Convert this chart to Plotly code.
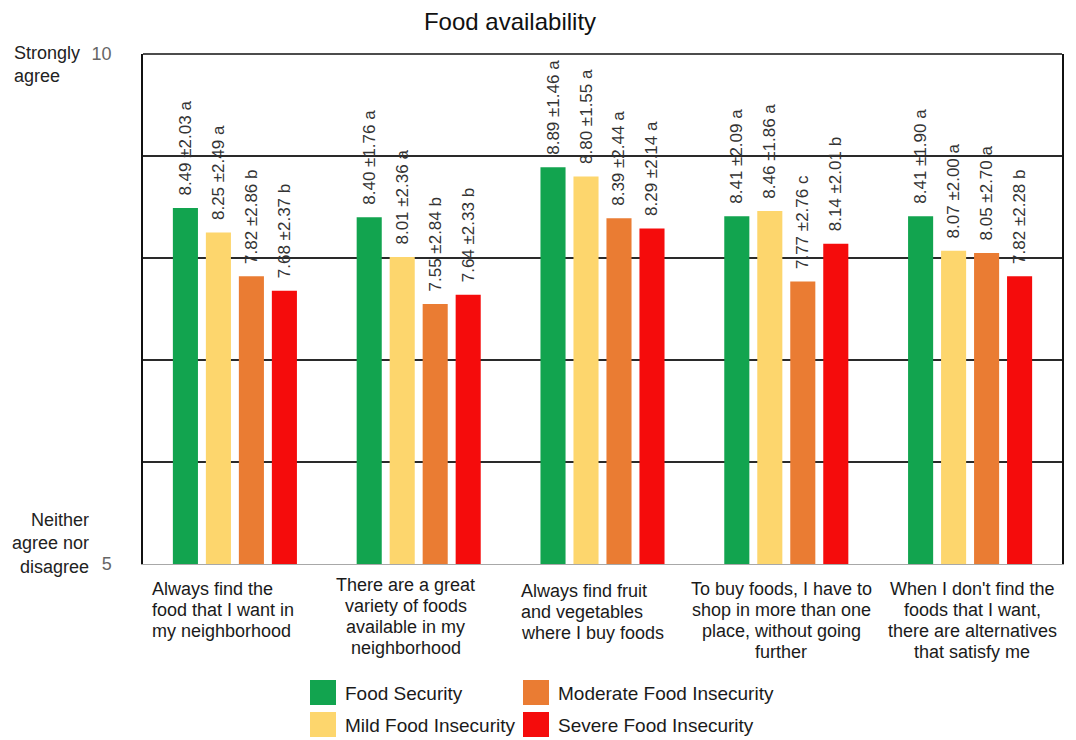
import plotly.graph_objects as go

# ---------------- data ----------------
categories = [
    "Always find the food that I want in my neighborhood",
    "There are a great variety of foods available in my neighborhood",
    "Always find fruit and vegetables where I buy foods",
    "To buy foods, I have to shop in more than one place, without going further",
    "When I don't find the foods that I want, there are alternatives that satisfy me",
]
category_lines = [
    ["Always find the", "food that I want in", "my neighborhood"],
    ["There are a great", "variety of foods", "available in my", "neighborhood"],
    ["Always find fruit", "and vegetables", "where I buy foods"],
    ["To buy foods, I have to", "shop in more than one", "place, without going", "further"],
    ["When I don't find the", "foods that I want,", "there are alternatives", "that satisfy me"],
]
series_names = ["Food Security", "Mild Food Insecurity",
                "Moderate Food Insecurity", "Severe Food Insecurity"]

food_security = [8.49, 8.40, 8.89, 8.41, 8.41]
food_security_sd = [2.03, 1.76, 1.46, 2.09, 1.90]
food_security_sig = ["a", "a", "a", "a", "a"]

mild_insecurity = [8.25, 8.01, 8.80, 8.46, 8.07]
mild_insecurity_sd = [2.49, 2.36, 1.55, 1.86, 2.00]
mild_insecurity_sig = ["a", "a", "a", "a", "a"]

moderate_insecurity = [7.82, 7.55, 8.39, 7.77, 8.05]
moderate_insecurity_sd = [2.86, 2.84, 2.44, 2.76, 2.70]
moderate_insecurity_sig = ["b", "b", "a", "c", "a"]

severe_insecurity = [7.68, 7.64, 8.29, 8.14, 7.82]
severe_insecurity_sd = [2.37, 2.33, 2.14, 2.01, 2.28]
severe_insecurity_sig = ["b", "b", "a", "b", "b"]

y_tick_values = [5, 6, 7, 8, 9, 10]
y_tick_text = ["5", "", "", "", "", "10"]

# ---------------- styling ----------------
FONT = "Liberation Sans, Arial, sans-serif"
colors = ["#12A44F", "#FDD66D", "#EA7C33", "#F50C0C"]
W, H = 1076, 740
L, R, T, B = 143, 1062, 54, 564  # plot area in screen pixels


def px_x(px):
    return (px - L) / (R - L)


def px_y(py):
    return (B - py) / (B - T)


series = [
    (food_security, food_security_sd, food_security_sig),
    (mild_insecurity, mild_insecurity_sd, mild_insecurity_sig),
    (moderate_insecurity, moderate_insecurity_sd, moderate_insecurity_sig),
    (severe_insecurity, severe_insecurity_sd, severe_insecurity_sig),
]

fig = go.Figure()
for name, color, (vals, sds, sigs) in zip(series_names, colors, series):
    labels = [f"\u00a0\u00a0{v:.2f} ±{s:.2f} {g}" for v, s, g in zip(vals, sds, sigs)]
    fig.add_trace(go.Bar(
        name=name, x=categories, y=vals,
        marker=dict(color=color, line=dict(width=0)),
        text=labels, textposition="outside", textangle=-90,
        textfont=dict(family=FONT, size=17, color="#333333"),
        constraintext="none", cliponaxis=False,
        showlegend=False,
    ))

annotations = []
# category labels
cat_style = [
    ("left", -85, 589),
    ("center", -13, 585),
    ("left", -83.5, 591),
    ("center", -5, 589),
    ("center", 2, 589),
]
for cat, lines, (anchor, shift, y0) in zip(categories, category_lines, cat_style):
    for i, line in enumerate(lines):
        annotations.append(dict(
            x=cat, xref="x", xshift=shift, xanchor=anchor,
            y=px_y(y0 + 21 * i), yref="paper", yanchor="middle",
            text=line, showarrow=False,
            font=dict(family=FONT, size=18, color="#1a1a1a"),
        ))

# y-axis end labels
annotations.append(dict(
    x=px_x(12), xref="paper", xanchor="left",
    y=px_y(41), yref="paper", yanchor="top",
    text="Strongly<br>agree", align="left", showarrow=False,
    font=dict(family=FONT, size=18, color="#222222"),
))
annotations.append(dict(
    x=px_x(91), xref="paper", xanchor="right",
    y=px_y(543), yref="paper", yanchor="middle",
    text="Neither<br>agree nor<br>disagree", align="right", showarrow=False,
    font=dict(family=FONT, size=18, color="#222222"),
))

# manual legend (2 x 2)
shapes = []
legend_pos = [(310, 680), (310, 712), (523, 680), (523, 712)]
for name, color, (lx, ly) in zip(series_names, colors, legend_pos):
    shapes.append(dict(
        type="rect", xref="paper", yref="paper",
        x0=px_x(lx), x1=px_x(lx + 26), y0=px_y(ly), y1=px_y(ly + 25),
        fillcolor=color, line=dict(width=0),
    ))
    annotations.append(dict(
        x=px_x(lx + 33), xref="paper", xanchor="left",
        y=px_y(ly + 13), yref="paper", yanchor="middle",
        text=name, showarrow=False,
        font=dict(family=FONT, size=19, color="#1a1a1a"),
    ))

# top border of plot area
shapes.append(dict(type="line", xref="paper", yref="paper",
                   x0=0, x1=1, y0=1, y1=1,
                   line=dict(color="#111111", width=1.5)))

fig.update_layout(
    width=W, height=H, autosize=False,
    margin=dict(l=L, r=W - R, t=T, b=H - B, pad=0),
    paper_bgcolor="white", plot_bgcolor="white",
    font=dict(family=FONT, color="#222222"),
    title=dict(text="Food availability", x=510 / W, xref="container", xanchor="center",
               y=1 - 22 / H, yref="container", yanchor="middle",
               font=dict(family=FONT, size=24, color="#111111")),
    barmode="group", bargap=0.282, bargroupgap=0.24,
    showlegend=False,
    xaxis=dict(showticklabels=False, ticks="", showgrid=False,
               showline=True, linecolor="#a8a8a8", linewidth=1, mirror=False,
               zeroline=False),
    yaxis=dict(range=[5, 10], tickvals=y_tick_values, ticktext=y_tick_text,
               ticks="", ticklabelstandoff=26,
               tickfont=dict(family=FONT, size=18, color="#666666"),
               showgrid=True, gridcolor="#2a2a2a", gridwidth=1.5,
               showline=True, linecolor="#111111", linewidth=1.5, mirror=True,
               zeroline=False),
    annotations=annotations,
    shapes=shapes,
)

fig.write_html(
    "out.html",
    config={"displayModeBar": False},
    post_script="document.body.style.margin='0';document.body.style.overflow='hidden';",
)
